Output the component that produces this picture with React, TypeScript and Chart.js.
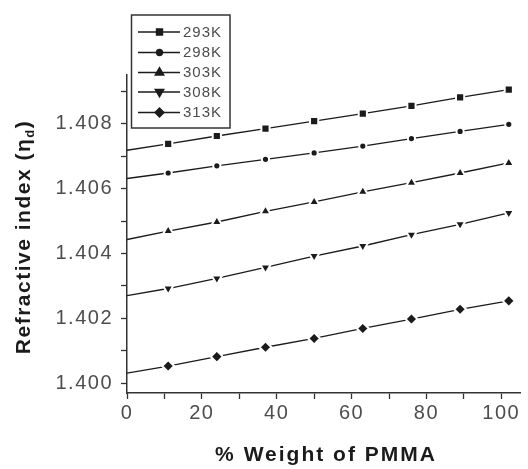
import React, { useEffect, useRef } from 'react';
import { Chart, registerables } from 'chart.js';
import { drawPoint } from 'chart.js/helpers';

Chart.register(...registerables);

// % weight of PMMA (first value is the start of each fitted line, no marker)
const xValues = [0, 11, 24, 37, 50, 63, 76, 89, 102];
const seriesLabels = ['293K', '298K', '303K', '308K', '313K'];
const k293 = [1.40718, 1.40738, 1.40762, 1.40785, 1.40808, 1.40831, 1.40855, 1.40881, 1.40905];
const k298 = [1.40631, 1.40648, 1.4067, 1.4069, 1.4071, 1.40731, 1.40754, 1.40776, 1.40798];
const k303 = [1.40443, 1.40469, 1.40497, 1.4053, 1.40559, 1.4059, 1.40618, 1.40648, 1.40679];
const k308 = [1.4027, 1.40292, 1.40323, 1.40357, 1.40392, 1.40423, 1.40458, 1.4049, 1.40525];
const k313 = [1.40031, 1.40053, 1.40082, 1.40111, 1.40138, 1.40169, 1.40198, 1.40228, 1.40254];
const xTickLabels = ['0', '20', '40', '60', '80', '100'];
const yTickLabels = ['1.400', '1.402', '1.404', '1.406', '1.408'];
const xTitle = '% Weight of PMMA';
const yTitleMain = 'Refractive index (η';
const yTitleSub = 'd';
const yTitleEnd = ')';

const seriesValues = [k293, k298, k303, k308, k313];
const pointStyles = ['rect', 'circle', 'triangle', 'triangle', 'rectRot'];
const pointRotations = [0, 0, 0, 180, 0];
const pointRadii = [5.8, 3.6, 6, 6, 6];
const legendRadii = [4.3, 3, 5, 5, 4.5];

const INK = '#1b1b1b';
const AXIS = '#333';
const TICK_TEXT = '#4d4d4d';

const overlayPlugin = {
  id: 'overlay',
  beforeDraw(chart: any) {
    (chart.ctx as any).letterSpacing = '1.5px';
  },
  afterDraw(chart: any) {
    const ctx = chart.ctx as any;
    ctx.save();
    // X title
    ctx.letterSpacing = '2px';
    ctx.fillStyle = INK;
    ctx.font = 'bold 21px "Liberation Sans", Arial, sans-serif';
    ctx.textAlign = 'center';
    ctx.textBaseline = 'middle';
    ctx.fillText(xTitle, 326, 455);

    // Y title with subscript
    ctx.save();
    ctx.translate(24, 237);
    ctx.rotate(-Math.PI / 2);
    ctx.textAlign = 'left';
    ctx.textBaseline = 'middle';
    ctx.letterSpacing = '1.5px';
    const mainFont = 'bold 21px "Liberation Sans", Arial, sans-serif';
    const subFont = 'bold 13px "Liberation Sans", Arial, sans-serif';
    ctx.font = mainFont;
    const w1 = ctx.measureText(yTitleMain).width;
    const w3 = ctx.measureText(yTitleEnd).width;
    ctx.font = subFont;
    const w2 = ctx.measureText(yTitleSub).width;
    const total = w1 + w2 + w3;
    let x = -total / 2;
    ctx.font = mainFont;
    ctx.fillText(yTitleMain, x, 0);
    x += w1;
    ctx.font = subFont;
    ctx.fillText(yTitleSub, x, 6);
    x += w2;
    ctx.font = mainFont;
    ctx.fillText(yTitleEnd, x, 0);
    ctx.restore();

    // Legend
    ctx.letterSpacing = '1px';
    ctx.fillStyle = '#fff';
    ctx.fillRect(131.5, 15, 98.5, 113);
    ctx.strokeStyle = AXIS;
    ctx.lineWidth = 1.5;
    ctx.strokeRect(131.5, 15, 98.5, 113);
    const rowY = [32, 52.5, 72.5, 92, 112.5];
    seriesLabels.forEach((lab, i) => {
      const y = rowY[i];
      ctx.strokeStyle = INK;
      ctx.lineWidth = 1.3;
      ctx.beginPath();
      ctx.moveTo(138, y);
      ctx.lineTo(180, y);
      ctx.stroke();
      ctx.fillStyle = INK;
      ctx.strokeStyle = INK;
      drawPoint(ctx, {
        pointStyle: pointStyles[i],
        rotation: pointRotations[i],
        radius: legendRadii[i],
        borderWidth: 0.5,
      } as any, 159.5, y);
      ctx.fillStyle = TICK_TEXT;
      ctx.font = '15px "Liberation Sans", Arial, sans-serif';
      ctx.textAlign = 'left';
      ctx.textBaseline = 'middle';
      ctx.fillText(lab, 183, y + 0.5);
    });
    ctx.restore();
    ctx.letterSpacing = '0px';
  },
};

export default function App() {
  const canvasRef = useRef<HTMLCanvasElement | null>(null);

  useEffect(() => {
    if (!canvasRef.current) return;
    const datasets = seriesValues.map((vals, i) => ({
      label: seriesLabels[i],
      data: xValues.map((x, j) => ({ x, y: vals[j] })),
      borderColor: INK,
      borderWidth: 1.3,
      backgroundColor: INK,
      pointStyle: pointStyles[i],
      pointRotation: pointRotations[i],
      pointRadius: xValues.map((_, j) => (j === 0 ? 0 : pointRadii[i])),
      pointBackgroundColor: INK,
      pointBorderColor: '#ffffff',
      pointBorderWidth: 2,
      tension: 0,
      fill: false,
    }));

    const tickFont = { family: '"Liberation Sans", Arial, sans-serif', size: 20 };

    const chart = new Chart(canvasRef.current, {
      type: 'line',
      data: { datasets },
      plugins: [overlayPlugin],
      options: {
        animation: false,
        responsive: true,
        maintainAspectRatio: false,
        layout: { padding: { top: 75, right: 1, left: 0, bottom: 0 } },
        plugins: {
          legend: { display: false },
          tooltip: { enabled: false },
          title: { display: false },
        },
        scales: {
          x: {
            type: 'linear',
            min: 0,
            max: 105,
            afterFit: (s: any) => {
              s.height = 76;
            },
            ticks: {
              stepSize: 10,
              includeBounds: false,
              autoSkip: false,
              maxRotation: 0,
              padding: 2,
              color: TICK_TEXT,
              font: tickFont,
              callback: (v: any) => {
                const s = String(Math.round(Number(v)));
                return xTickLabels.includes(s) ? s : '';
              },
            },
            grid: {
              drawOnChartArea: false,
              drawTicks: true,
              tickLength: 6,
              tickColor: AXIS,
              tickWidth: 1.3,
            },
            border: { display: true, color: AXIS, width: 1.5 },
            title: { display: false },
          },
          y: {
            type: 'linear',
            min: 1.3997,
            max: 1.4095,
            afterFit: (s: any) => {
              s.width = 127;
            },
            ticks: {
              stepSize: 0.001,
              includeBounds: false,
              autoSkip: false,
              padding: 8,
              color: TICK_TEXT,
              font: tickFont,
              callback: (v: any) => {
                const s = (Math.round(Number(v) * 1000) / 1000).toFixed(3);
                return yTickLabels.includes(s) ? s : '';
              },
            },
            grid: {
              drawOnChartArea: false,
              drawTicks: true,
              tickLength: 6,
              tickColor: AXIS,
              tickWidth: 1.3,
            },
            border: { display: true, color: AXIS, width: 1.5 },
            title: { display: false },
          },
        },
      } as any,
    });
    return () => chart.destroy();
  }, []);

  return (
    <div style={{ position: 'absolute', left: 0, top: 0, width: 528, height: 469, background: '#fff' }}>
      <canvas ref={canvasRef} />
    </div>
  );
}
